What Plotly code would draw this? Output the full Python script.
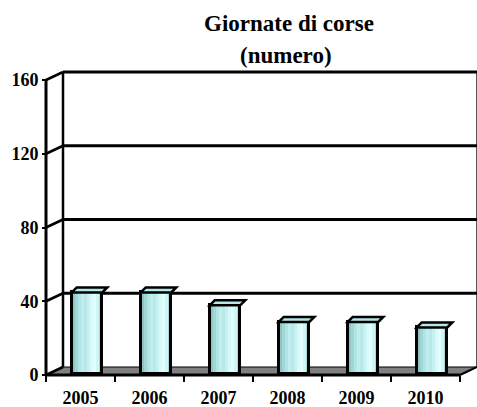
import plotly.graph_objects as go

# Data
years = ["2005", "2006", "2007", "2008", "2009", "2010"]
giornate = [44, 44, 37, 28, 28, 25]
y_ticks = [0, 40, 80, 120, 160]
title_lines = ["Giornate di corse", "(numero)"]

# Canvas and pixel scale of the front plane
W, H = 477, 407
PX_X = 69.0          # pixels per category
PX_Y = 1.84375       # pixels per unit
FRONT_LEFT_PX = 46   # x pixel of the front vertical axis
ZERO_PX = 375        # y pixel of the front floor edge
L, R, T, B = 32, 0, 68, 26

x_min = -0.5 - (FRONT_LEFT_PX - L) / PX_X
x_max = -0.5 + (W - R - FRONT_LEFT_PX) / PX_X
y_min = -(H - B - ZERO_PX) / PX_Y
y_max = (ZERO_PX - T) / PX_Y

# 3-D depth of the chart box, in data units
DX = 17 / PX_X
DY = 8 / PX_Y
n = len(years)
xs = list(range(n))
left_edge, right_edge = -0.5, n - 0.5
top = max(y_ticks)

# Bar geometry (bars sit at mid depth)
BAR_W = 30.5 / PX_X
BAR_SHIFT = 6.5 / PX_X
BAR_BASE = 1.5 / PX_Y
TOP_DX = 5 / PX_X
TOP_DY = 5 / PX_Y

fig = go.Figure()

# Cylinder-like shading built from vertical strips
strip_colors = ["#8CC6C6", "#9FD6D6", "#B2E4E4", "#C0EDED", "#BAE8E8",
                "#C6F1F1", "#D6F9F9", "#E2FFFF", "#CFF5F5", "#A6DADA"]
ns = len(strip_colors)
for k, c in enumerate(strip_colors):
    fig.add_trace(go.Bar(
        x=xs, y=giornate, base=BAR_BASE,
        width=BAR_W / ns * 1.08,
        offset=BAR_SHIFT - BAR_W / 2 + k * BAR_W / ns,
        marker=dict(color=c, line=dict(width=0)),
        hoverinfo="skip", showlegend=False,
    ))
# Outline of the bar fronts
fig.add_trace(go.Bar(
    x=xs, y=giornate, base=BAR_BASE, width=BAR_W,
    offset=BAR_SHIFT - BAR_W / 2,
    marker=dict(color="rgba(0,0,0,0)", line=dict(color="black", width=3)),
    hovertemplate="%{customdata}: %{y}<extra></extra>",
    customdata=years, showlegend=False,
))

shapes = []
# Floor
shapes.append(dict(
    type="path", layer="below",
    path=(f"M{left_edge},0 L{left_edge + DX},{DY} L{right_edge + DX},{DY} "
          f"L{right_edge},0 Z"),
    fillcolor="#808080", line=dict(color="black", width=1.2),
))
# Back wall grid lines and side-wall diagonals
for v in y_ticks:
    if v > 0:
        shapes.append(dict(type="line", layer="below",
                           x0=left_edge + DX, y0=v + DY, x1=right_edge + DX, y1=v + DY,
                           line=dict(color="black", width=3)))
    shapes.append(dict(type="line", layer="below",
                       x0=left_edge, y0=v, x1=left_edge + DX, y1=v + DY,
                       line=dict(color="black", width=2.5)))
# Back-left and right edges of the wall
shapes.append(dict(type="line", layer="below",
                   x0=left_edge + DX, y0=DY, x1=left_edge + DX, y1=top + DY,
                   line=dict(color="black", width=2.5)))
shapes.append(dict(type="line", layer="below",
                   x0=right_edge + DX, y0=DY, x1=right_edge + DX, y1=top + DY,
                   line=dict(color="black", width=1.3)))
# Front vertical axis and front floor edge
shapes.append(dict(type="line", layer="above",
                   x0=left_edge, y0=0, x1=left_edge, y1=top,
                   line=dict(color="black", width=3)))
shapes.append(dict(type="line", layer="above",
                   x0=left_edge, y0=0, x1=right_edge, y1=0,
                   line=dict(color="black", width=3)))
shapes.append(dict(type="line", layer="above",
                   x0=right_edge, y0=0, x1=right_edge + DX, y1=DY,
                   line=dict(color="black", width=2)))

# Bar tops
for x, v in zip(xs, giornate):
    x0 = x + BAR_SHIFT - BAR_W / 2
    x1 = x + BAR_SHIFT + BAR_W / 2
    yf = v + BAR_BASE
    shapes.append(dict(
        type="path", layer="above",
        path=(f"M{x0},{yf} L{x0 + TOP_DX},{yf + TOP_DY} "
              f"L{x1 + TOP_DX},{yf + TOP_DY} L{x1},{yf} Z"),
        fillcolor="#B4E8E8", line=dict(color="black", width=2.5),
    ))

pw = W - L - R
ph = H - T - B


def paper_x(px):
    return (px - L) / pw


def paper_y(py):
    return (H - B - py) / ph


FONT = "Liberation Serif"
annotations = [
    dict(text=f"<b>{title_lines[0]}</b>", x=paper_x(289), y=paper_y(23),
         xref="paper", yref="paper", showarrow=False,
         xanchor="center", yanchor="middle",
         font=dict(family=FONT, size=23, color="black")),
    dict(text=f"<b>{title_lines[1]}</b>", x=paper_x(286), y=paper_y(56),
         xref="paper", yref="paper", showarrow=False,
         xanchor="center", yanchor="middle",
         font=dict(family=FONT, size=23, color="black")),
]

fig.update_layout(
    width=W, height=H,
    margin=dict(l=L, r=R, t=T, b=B, pad=0),
    paper_bgcolor="white", plot_bgcolor="white",
    barmode="overlay", bargap=0,
    shapes=shapes, annotations=annotations,
    showlegend=False,
    xaxis=dict(
        range=[x_min, x_max], showgrid=False, zeroline=False, showline=False,
        tickmode="array", tickvals=xs, ticktext=[f"<b>{y}</b>" for y in years],
        ticks="outside", ticklen=6, tickcolor="rgba(0,0,0,0)",
        tickfont=dict(family=FONT, size=18, color="black"),
        minor=dict(tickmode="array", tickvals=[i - 0.5 for i in range(n + 1)],
                   ticks="outside", ticklen=6, tickwidth=2, tickcolor="black"),
        anchor="free", position=(0 - y_min) / (y_max - y_min),
        fixedrange=True,
    ),
    yaxis=dict(
        range=[y_min, y_max], showgrid=False, zeroline=False, showline=False,
        tickmode="array", tickvals=y_ticks,
        ticktext=[f"<b>{v}</b>" for v in y_ticks],
        ticks="outside", ticklen=4, tickwidth=2, tickcolor="black",
        tickfont=dict(family=FONT, size=18, color="black"),
        anchor="free", position=(left_edge - x_min) / (x_max - x_min),
        fixedrange=True,
    ),
)

fig.write_html("out.html")
